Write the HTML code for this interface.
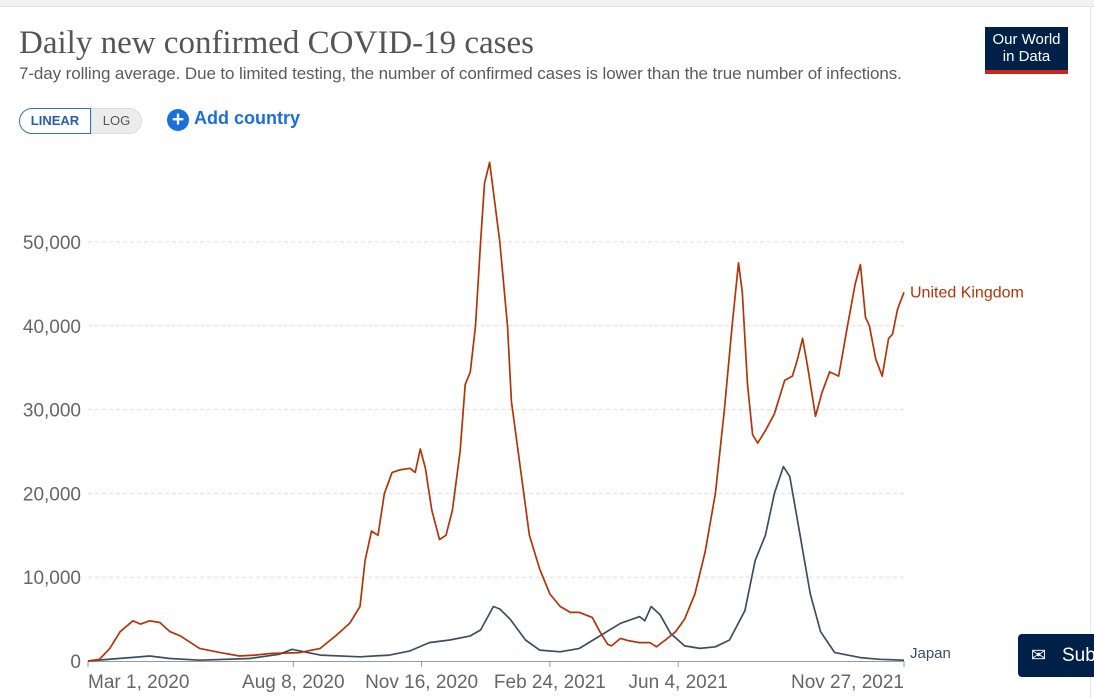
<!DOCTYPE html>
<html><head><meta charset="utf-8"><style>
body{margin:0;width:1094px;height:698px;background:#fff;overflow:hidden;font-family:"Liberation Sans",sans-serif;position:relative}
.t{position:absolute;white-space:nowrap}
</style></head><body>
<div style="position:absolute;left:0;top:0;width:1094px;height:6px;background:#f2f2f2;border-bottom:1px solid #e4e4e4"></div>
<div style="position:absolute;left:1090px;top:6px;width:1px;height:692px;background:#e4e4e4"></div>
<div class="t" style="left:19px;top:25px;font-family:'Liberation Serif',serif;font-size:33px;color:#555">Daily new confirmed COVID-19 cases</div>
<div class="t" style="left:19px;top:64px;font-size:17px;color:#5b5b5b;letter-spacing:-0.1px">7-day rolling average. Due to limited testing, the number of confirmed cases is lower than the true number of infections.</div>
<div style="position:absolute;left:985px;top:27px;width:83px;height:47px;background:#002147;color:#fff;font-size:15px;line-height:17px;text-align:center;box-sizing:border-box;padding-top:4px;border-bottom:4px solid #ce261e">Our World<br>in Data</div>
<div style="position:absolute;left:19px;top:108px;width:72px;height:26px;border:1px solid #2d74c9;border-radius:14px 0 0 14px;box-sizing:border-box;color:#2a5ea8;font-size:13px;font-weight:bold;text-align:center;line-height:24px">LINEAR</div>
<div style="position:absolute;left:91px;top:108px;width:51px;height:26px;background:#ececec;border:1px solid #ddd;border-radius:0 14px 14px 0;box-sizing:border-box;color:#555;font-size:13px;text-align:center;line-height:24px">LOG</div>
<div class="t" style="left:167px;top:108px;font-size:18px;font-weight:bold;color:#1a6fd8"><span style="display:inline-block;width:22px;height:22px;border-radius:50%;background:#1a6fd8;color:#fff;text-align:center;line-height:22px;font-size:21px;vertical-align:-2px;margin-right:5px">+</span>Add country</div>
<div style="position:absolute;left:1018px;top:634px;width:90px;height:43px;background:#002147;border-radius:4px;color:#fff;font-size:19px;line-height:43px;padding-left:44px;box-sizing:border-box">Sub<span style="position:absolute;left:13px;top:0;font-size:18px">✉</span></div>
<svg id="chart" width="1094" height="698" style="position:absolute;left:0;top:0"></svg>
<script>
const yTicks=[0,10000,20000,30000,40000,50000];
const yTickLabels=["0","10,000","20,000","30,000","40,000","50,000"];
const xTickDays=[0,160,260,360,460,636];
const xTickLabels=["Mar 1, 2020","Aug 8, 2020","Nov 16, 2020","Feb 24, 2021","Jun 4, 2021","Nov 27, 2021"];
const ukDays=[0,9,17,25,35,41,48,56,64,72,87,103,118,130,142,165,181,193,204,212,216,221,226,231,237,243,251,255,259,263,268,274,279,284,290,294,298,302,306,309,313,316,321,327,330,337,344,352,360,368,376,383,393,399,405,408,415,422,430,438,443,450,458,465,473,481,489,496,502,507,510,514,518,522,528,535,543,549,553,557,561,567,572,578,585,588,592,598,602,606,609,614,619,624,627,631,636];
const ukCases=[0,200,1500,3500,4800,4400,4800,4600,3500,3000,1500,1000,600,700,900,1000,1500,3000,4500,6500,12000,15500,15000,20000,22500,22800,23000,22500,25300,23000,18000,14500,15000,18000,25000,33000,34500,40000,50000,57000,59500,56000,50000,40000,31000,23000,15000,11000,8000,6500,5800,5800,5200,3500,2000,1800,2700,2400,2200,2200,1700,2500,3500,5000,8000,13000,20000,30000,40000,47500,44000,33000,27000,26000,27500,29500,33500,34000,36000,38500,35000,29200,32000,34500,34000,36500,40000,45000,47300,41000,40000,36000,34000,38500,39000,42000,44000];
const jpDays=[0,33,48,64,87,126,149,159,165,181,212,235,251,266,282,298,306,316,321,329,341,352,368,383,399,415,430,434,439,446,454,465,477,489,500,512,520,528,535,542,547,555,563,571,582,602,617,636];
const jpCases=[0,400,600,300,100,300,800,1400,1200,700,500,700,1200,2200,2500,3000,3700,6500,6200,5000,2500,1300,1100,1500,3000,4500,5300,4800,6500,5500,3300,1800,1500,1700,2500,6000,12000,15000,20000,23200,22000,15000,8000,3500,1000,400,200,100];
const svg=document.getElementById('chart');
const NS='http://www.w3.org/2000/svg';
const X=d=>88+d*(904-88)/636;
const Y=v=>661-v*(661-242)/50000;
function mk(tag,attrs){const e=document.createElementNS(NS,tag);for(const k in attrs)e.setAttribute(k,attrs[k]);svg.appendChild(e);return e;}
yTicks.forEach((v,i)=>{
  if(v>0){const g=mk('line',{x1:88,x2:904,y1:Y(v),y2:Y(v),stroke:'#ddd','stroke-dasharray':'4,3'});
  
  }
  const t=mk('text',{x:81,y:Y(v)+7,'text-anchor':'end','font-size':'19','fill':'#666','font-family':'Liberation Sans, sans-serif'});
  t.textContent=yTickLabels[i];
  
  
});
const ax=mk('line',{x1:88,x2:904,y1:661.5,y2:661.5,stroke:'#999'});


xTickDays.forEach((d,i)=>{
  const tk=mk('line',{x1:X(d),x2:X(d),y1:661,y2:667,stroke:'#999'});
  
  
  const anchor=i==0?'start':(i==5?'end':'middle');
  const t=mk('text',{x:X(d),y:688,'text-anchor':anchor,'font-size':'19','fill':'#666','font-family':'Liberation Sans, sans-serif'});
  t.textContent=xTickLabels[i];
  
  
});
function line(days,vals,color,name){
  const p=mk('path',{d:days.map((d,i)=>(i?'L':'M')+X(d).toFixed(1)+','+Y(vals[i]).toFixed(1)).join(''),fill:'none',stroke:color,'stroke-width':1.7,'stroke-linejoin':'round'});
  
  
}
line(jpDays,jpCases,'#3c4e66','japan-line');
line(ukDays,ukCases,'#b13507','uk-line');
const l1=mk('text',{x:910,y:Y(ukCases[ukCases.length-1])+5,'font-size':'16','fill':'#b13507','font-family':'Liberation Sans, sans-serif'});
l1.textContent='United Kingdom';


const l2=mk('text',{x:910,y:658,'font-size':'15','fill':'#3c4e66','font-family':'Liberation Sans, sans-serif'});
l2.textContent='Japan';


</script>
</body></html>
